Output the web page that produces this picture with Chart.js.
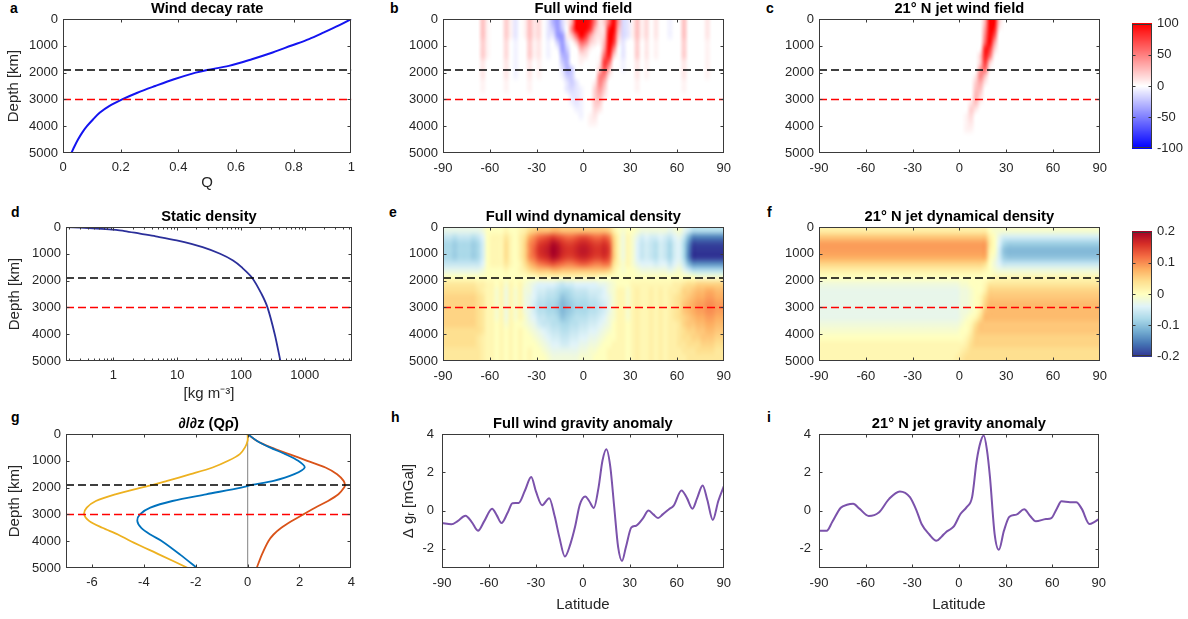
<!DOCTYPE html>
<html>
<head>
<meta charset="utf-8">
<script src="https://cdn.jsdelivr.net/npm/chart.js@4.4.1/dist/chart.umd.min.js"></script>
<style>
  body { margin: 0; background: #fff; }
  #fig { position: relative; width: 1188px; height: 619px; overflow: hidden; font-family: "Liberation Sans", Arial, Helvetica, sans-serif; }
  #fig canvas { position: absolute; }
  .tag { position: absolute; font-weight: bold; font-size: 14px; line-height: 16px; color: #000; }
</style>
</head>
<body>
<div id="fig">
  <div class="tag" style="left:10px;top:0px">a</div>
  <div class="tag" style="left:390px;top:0px">b</div>
  <div class="tag" style="left:766px;top:0px">c</div>
  <div class="tag" style="left:11px;top:204px">d</div>
  <div class="tag" style="left:389px;top:204px">e</div>
  <div class="tag" style="left:767px;top:204px">f</div>
  <div class="tag" style="left:11px;top:409px">g</div>
  <div class="tag" style="left:391px;top:409px">h</div>
  <div class="tag" style="left:767px;top:409px">i</div>
</div>
<script>
// depth of the two reference levels [km]
const decayDepth = 1900;
const refDepth = 3000;

// a: wind decay function Q(depth)
const decayDepths = [0, 250, 500, 750, 1000, 1250, 1500, 1750, 1900, 2000, 2250, 2500, 2750, 3000, 3250, 3500, 3750, 4000, 4250, 4500, 4750, 5000];
const decayQ = [1.0, 0.955, 0.905, 0.853, 0.79, 0.727, 0.655, 0.575, 0.50, 0.46, 0.385, 0.32, 0.258, 0.205, 0.16, 0.127, 0.104, 0.083, 0.066, 0.052, 0.04, 0.029];

// d: static density [kg m^-3]
const densDepths = [0, 25, 60, 100, 150, 250, 350, 500, 750, 1000, 1250, 1500, 1900, 2500, 3000, 4000, 5000];
const densValues = [0.18, 0.3, 0.55, 0.95, 1.5, 2.6, 4.6, 9.8, 25, 47, 75, 102, 150, 210, 260, 338, 415];
const densTicks = [1, 10, 100, 1000];

// g: d/dz (Q rho) terms
const gradDepths = [0, 250, 500, 750, 1000, 1250, 1500, 1750, 1900, 2000, 2250, 2500, 2750, 3000, 3250, 3500, 3750, 4000, 4500, 5000];
const gradTotal = [0, 0.35, 0.85, 1.45, 1.95, 2.2, 1.8, 1.0, 0.15, -0.25, -1.6, -2.9, -3.75, -4.15, -4.25, -4.1, -3.75, -3.3, -2.6, -1.95];
const gradDensity = [0, 0.35, 0.9, 1.6, 2.3, 3.0, 3.45, 3.7, 3.75, 3.72, 3.5, 3.1, 2.6, 2.15, 1.7, 1.3, 1.0, 0.8, 0.55, 0.35];
const gradDecay = [0, 0, -0.1, -0.3, -0.75, -1.35, -2.2, -3.1, -3.65, -4.1, -5.1, -5.85, -6.2, -6.3, -6.1, -5.6, -5.0, -4.5, -3.4, -2.3];

// h: full wind gravity anomaly [mGal]
const fullLat = [-90, -84, -80, -75, -71, -67, -63, -58, -55, -52, -48, -45, -41, -37, -33, -30, -26, -21.5, -18, -15, -11.5, -8, -5, -2, 1.5, 4, 7, 10, 12.5, 15, 17.5, 20, 22.5, 25, 27.5, 31, 34, 38, 42, 45, 48, 51, 55, 58, 63, 66.5, 70, 73, 76.5, 79.5, 83, 86.5, 90];
const fullGrav = [-0.65, -0.72, -0.55, -0.27, -0.6, -1.05, -0.55, 0.1, -0.25, -0.65, -0.1, 0.38, 0.4, 1.05, 1.75, 1.0, 0.28, 0.65, -0.3, -1.4, -2.4, -1.75, -0.85, 0.3, 0.74, 0.5, 0.14, 1.2, 2.6, 3.2, 2.3, 0.2, -1.9, -2.63, -1.9, -0.88, -0.79, -0.45, 0.0, -0.2, -0.39, -0.2, 0.07, 0.26, 1.05, 0.65, 0.1, 0.65, 1.31, 0.55, -0.49, 0.5, 1.26];

// i: 21N jet gravity anomaly [mGal]
const jetLat = [-90, -85, -81.5, -76, -72, -68, -64, -58, -51.5, -45, -38, -31.5, -27, -24, -19, -14.5, -11, -8.5, -5, -3, 1, 5, 8.5, 11.5, 14, 16, 18, 20, 23, 25.7, 29, 32.5, 37, 42, 46, 49.5, 56, 59.5, 63, 66, 71.5, 75.5, 79, 84, 87, 90];
const jetGrav = [-1.05, -1.05, -0.6, 0.15, 0.3, 0.35, 0.1, -0.28, -0.1, 0.6, 1.0, 0.7, -0.05, -0.7, -1.25, -1.58, -1.35, -1.14, -0.95, -0.8, -0.18, 0.18, 0.7, 2.63, 3.6, 3.92, 3.2, 1.75, -1.23, -2.05, -1.05, -0.32, -0.21, 0.07, -0.3, -0.56, -0.44, -0.39, 0.1, 0.49, 0.44, 0.44, 0.1, -0.7, -0.6, -0.44];

// field grids: 60 columns of 3 deg from -90, 20 rows of 250 km from the top
// level codes: 0 = zero, A..T = +1..+20 twentieths of the colour range, a..t = negative
const gridLatStart = -90, gridLatStep = 3, gridDepthStep = 250;
const windRange = 100;   // m/s
const densRange = 0.2;   // kg m^-3

const windFullRows = [
  "00000000EA 000DAb0AEB C0bfhcAFTT TRJBDLTHcb AEAC0B00a0 0E0000B000",
  "00000000EA 000DAb0AEB C0bdhd0JTT TPFBCRTFcb AEAC0B00a0 0E0000B000",
  "00000000EA 000DAb0AEB C0bbhhADLT PHCBDTRDcb AEAC0B00a0 0E0000B000",
  "00000000DA 000C0a00DA B0a0dhb0DL JDBAFTPBb0 0D0B0A0000 0D0000A000",
  "00000000DA 000C0a00DA B0a0ahd00F DA00HTJ0b0 0D0B0A0000 0D0000A000",
  "00000000DA 000C0a00DA B0a00ff00B B00ALRD0b0 0D0B0A0000 0D0000A000",
  "00000000B0 000B0a00B0 A0000df00A 000BPL00a0 0B0A000000 0B0000A000",
  "00000000B0 000B0a00B0 A0000bfd00 000DNF00a0 0B0A000000 0B0000A000",
  "00000000B0 000B0a00B0 A0000add00 000JJB0000 0B0A000000 0B0000A000",
  "00000000A0 000A0000A0 000000bdb0 00BJF00000 0A00000000 0A00000000",
  "00000000A0 000A0000A0 000000bcba 00DHD00000 0A00000000 0A00000000",
  "0000000000 0000000000 0000000bba 00DFB00000 0000000000 0000000000",
  "0000000000 0000000000 0000000aba 00DD000000 0000000000 0000000000",
  "0000000000 0000000000 00000000aa 00CB000000 0000000000 0000000000",
  "0000000000 0000000000 000000000a 0AB0000000 0000000000 0000000000",
  "0000000000 0000000000 0000000000 0AA0000000 0000000000 0000000000",
  "0000000000 0000000000 0000000000 0000000000 0000000000 0000000000",
  "0000000000 0000000000 0000000000 0000000000 0000000000 0000000000",
  "0000000000 0000000000 0000000000 0000000000 0000000000 0000000000",
  "0000000000 0000000000 0000000000 0000000000 0000000000 0000000000"
];

const windJetRows = [
  "0000000000 0000000000 0000000000 00000FTTD0 0000000000 0000000000",
  "0000000000 0000000000 0000000000 00000HTRB0 0000000000 0000000000",
  "0000000000 0000000000 0000000000 00000JTN00 0000000000 0000000000",
  "0000000000 0000000000 0000000000 00000LTH00 0000000000 0000000000",
  "0000000000 0000000000 0000000000 0000ARPD00 0000000000 0000000000",
  "0000000000 0000000000 0000000000 0000DRLA00 0000000000 0000000000",
  "0000000000 0000000000 0000000000 0000DPD000 0000000000 0000000000",
  "0000000000 0000000000 0000000000 0000HLA000 0000000000 0000000000",
  "0000000000 0000000000 0000000000 000BJE0000 0000000000 0000000000",
  "0000000000 0000000000 0000000000 000DGB0000 0000000000 0000000000",
  "0000000000 0000000000 0000000000 000EE00000 0000000000 0000000000",
  "0000000000 0000000000 0000000000 000FC00000 0000000000 0000000000",
  "0000000000 0000000000 0000000000 00BEA00000 0000000000 0000000000",
  "0000000000 0000000000 0000000000 00DB000000 0000000000 0000000000",
  "0000000000 0000000000 0000000000 0AC0000000 0000000000 0000000000",
  "0000000000 0000000000 0000000000 0AB0000000 0000000000 0000000000",
  "0000000000 0000000000 0000000000 0AA0000000 0000000000 0000000000",
  "0000000000 0000000000 0000000000 0000000000 0000000000 0000000000",
  "0000000000 0000000000 0000000000 0000000000 0000000000 0000000000",
  "0000000000 0000000000 0000000000 0000000000 0000000000 0000000000"
];

const densFullRows = [
  "ccccccccb0 000A00ABDE FFFGGFFFFF FFFFFEB0a0 0abbbbbbcb aceggggggg",
  "ffgfffgfd0 AAACA0BDHJ LMNONMLLMN NMLLMKEAbA acedeedefd cfkooooooo",
  "hhihhhihe0 AAADA0BEJL OPQSRPOOPQ QPOOPNFAbA adfefgefhe dhnsssssss",
  "hhihhhihe0 AAADA0BEJM PQRTSQPPQR RQPPQOFAbA adfefgefhe dhottttttt",
  "hhihhhihe0 AAADA0BEJL OPQSRPOOPQ QPOOPNFAbA adfefgefhe dhottttttt",
  "ffffffffd0 AAACA0ADGI KLMNMLKKLM MLKKLKDAaA acdddeddfd cfknnnnnnn",
  "ccccccccb0 000A00ABDE FFFGGFFFFF FFFFFEB0a0 0abbbbbbcb aceggggggg",
  "0000000000 0000000000 AAAAAAAAAA AAA0000000 0000000000 0000aaaaaa",
  "CCCCCCCBBA A0AaA0Aabc ddddefeedd dddccba000 AAAAAAAAAB BCDDEEEEEE",
  "DDDDDDDCBA AaAbAaAbbd eeffghhgff feeedbaAAa ABAABABABB CEEFGGHHGG",
  "EEEEEEEDCA AaAbAaAbcd ffgghjihgg gffedcaAAa ABAABABABC DEFGHHIIHH",
  "EEEEEEEDCA AaAbAaAbce gghhikjihh hggfecaAAa ABAABABABC DFGHIIJJII",
  "EEEEEEEDCA AaAbAaAbce gghhikjihh hggfecaAAa ABAABABABC DFGHIIJJII",
  "EEEEEEEDCA AaAbAaAacd ffgghjihgg gffedbaAAa ABAABABABC DEFGHHIIHH",
  "EEEEEEEDCA A0AaA00abc effgghhggf feedcb0AA0 ABAABABABB CEFFGGHHGG",
  "DDDDDDDDCA A0A0A0A0ab cdeffggffe eddcba0AA0 ABAABABABB CDEEFFGGFF",
  "DDDDDDDCBA A0A0A0A00a bcdeeffeed dccba00AA0 ABAABABABB CDDEEFFFEE",
  "DDDDDDDCBA A0A0A0A000 abcddeeddc cbba00AAA0 ABAABABABB CCDDDEEEDD",
  "CCCCCCCCBA A0A0A0A0A0 0abccccccb baa00AAAA0 ABAABABABB BCCCDDDDCC",
  "CCCCCCCCBA A0A0A0A0A0 00abbbbbba aa000AAAA0 ABAABABABB BBCCCCCCCC"
];

const densJetRows = [
  "BBBBBBBBBB BBBBBBBBBB BBBBBBBBBB BBBBBB0aaa aaaaaaaaaa aaaaaaaaaa",
  "FFFFFFFFFF FFFFFFFFFF FFFFFFFFFF FFFFFFB0ce eeeeeeeeee eeeeeeeeee",
  "IIIIIIIIII IIIIIIIIII IIIIIIIIII IIIIIIC0dh iiiiiiiiii iiiiiiiiii",
  "IIIIIIIIII IIIIIIIIII IIIIIIIIII IIIIIIB0ej kkkkkkkkkk kkkkkkkkkk",
  "HHHHHHHHHH HHHHHHHHHH HHHHHHHHHH HHHHHHAaei jjjjjjjjjj jjjjjjjjjj",
  "EEEEEEEEEE EEEEEEEEEE EEEEEEEEEE EEEEED0bdf ffffffffff ffffffffff",
  "BBBBBBBBBB BBBBBBBBBB BBBBBBBBBB BBBBBA0abb bbbbbbbbbb bbbbbbbbbb",
  "0000000000 0000000000 0000000000 0000000AAA AAAAAAAAAA AAAAAAAAAA",
  "bbbbbbbbbb bbbbbbbbbb bbbbbbbbbb aa000ACCCC CCCCCCCCCC CCCCCCCCCC",
  "cccccccccc cccccccccc cccccccccc bba00BEEEE EEEEEEEEEE EEEEEEEEEE",
  "cccccccccc cccccccccc cccccccccc bba0ADFFFF FFFFFFFFFF FFFFFFFFFF",
  "cccccccccc cccccccccc cccccccccc bba0AEGGGG GGGGGGGGGG GGGGGGGGGG",
  "cccccccccc cccccccccc cccccccccc bba0BFGGGG GGGGGGGGGG GGGGGGGGGG",
  "cccccccccc cccccccccc cccccccccc ba0ADGGGGG GGGGGGGGGG GGGGGGGGGG",
  "bbbbbbbbbb bbbbbbbbbb bbbbbbbbbb a0ADFFFFFF FFFFFFFFFF FFFFFFFFFF",
  "aaaaaaaaaa aaaaaaaaaa aaaaaaaaaa 00BEFFFFFF FFFFFFFFFF FFFFFFFFFF",
  "0000000000 0000000000 0000000000 0ACEEEEEEE EEEEEEEEEE EEEEEEEEEE",
  "AAAAAAAAAA AAAAAAAAAA AAAAAAAAAA ABDEEEEEEE EEEEEEEEEE EEEEEEEEEE",
  "AAAAAAAAAA AAAAAAAAAA AAAAAAAAAA BCDDDDDDDD DDDDDDDDDD DDDDDDDDDD",
  "AAAAAAAAAA AAAAAAAAAA AAAAAAAAAB CDDDDDDDDD DDDDDDDDDD DDDDDDDDDD"
];

// ---------------------------------------------------------------
const fig = document.getElementById('fig');
Chart.defaults.font.family = '"Liberation Sans", Arial, Helvetica, sans-serif';
Chart.defaults.font.size = 13;
Chart.defaults.color = '#262626';
Chart.defaults.animation = false;
Chart.defaults.responsive = false;
Chart.defaults.plugins.legend.display = false;
Chart.defaults.plugins.tooltip.enabled = false;

// plot-area boxes [left, top, right, bottom] in page pixels
const boxes = {
  a: [63, 19, 352, 153], b: [443, 19, 729, 153], c: [819, 19, 1105, 153],
  d: [66, 227, 352, 361], e: [443, 227, 729, 361], f: [819, 227, 1105, 361],
  g: [66, 434, 352, 568], h: [442, 434, 729, 568], i: [819, 434, 1104, 568],
  cb1: [1132, 19, 1152, 153], cb2: [1132, 227, 1152, 361]
};

function level(ch) {
  const k = ch.charCodeAt(0);
  if (k >= 65 && k <= 84) return (k - 64) / 20;
  if (k >= 97 && k <= 116) return -(k - 96) / 20;
  return 0;
}

function bwr(f) {
  f = Math.max(-1, Math.min(1, f));
  if (f >= 0) { const c = Math.round(255 * (1 - f)); return [255, c, c]; }
  const c = Math.round(255 * (1 + f));
  return [c, c, 255];
}

const rdylbuStops = [[49,54,149],[69,117,180],[116,173,209],[171,217,233],[224,243,248],[255,255,191],[254,224,144],[253,174,97],[244,109,67],[215,48,39],[165,0,38]];
function rdylbu(f) {
  const p = Math.max(0, Math.min(1, (f + 1) / 2)) * (rdylbuStops.length - 1);
  const i = Math.min(Math.floor(p), rdylbuStops.length - 2), t = p - i;
  const a = rdylbuStops[i], b = rdylbuStops[i + 1];
  return [0, 1, 2].map(k => Math.round(a[k] + (b[k] - a[k]) * t));
}
const css = c => `rgb(${c[0]},${c[1]},${c[2]})`;

// one texel per grid cell, stretched over the cell extent given by the scales
function heatLayer(rows, colour) {
  const grid = rows.map(r => r.replace(/\s+/g, ''));
  const nx = grid[0].length, ny = grid.length;
  const tex = document.createElement('canvas');
  tex.width = nx; tex.height = ny;
  const tctx = tex.getContext('2d');
  const img = tctx.createImageData(nx, ny);
  grid.forEach((row, r) => {
    for (let c = 0; c < nx; c++) {
      const col = colour(level(row[c]));
      const o = (r * nx + c) * 4;
      img.data[o] = col[0]; img.data[o + 1] = col[1]; img.data[o + 2] = col[2]; img.data[o + 3] = 255;
    }
  });
  tctx.putImageData(img, 0, 0);
  return {
    id: 'heat',
    beforeDatasetsDraw(chart) {
      const { ctx, chartArea: a, scales: { x, y } } = chart;
      const x0 = x.getPixelForValue(gridLatStart), x1 = x.getPixelForValue(gridLatStart + nx * gridLatStep);
      const y0 = y.getPixelForValue(0), y1 = y.getPixelForValue(ny * gridDepthStep);
      ctx.save();
      ctx.beginPath();
      ctx.rect(a.left, a.top, a.right - a.left, a.bottom - a.top);
      ctx.clip();
      ctx.imageSmoothingEnabled = true;
      ctx.imageSmoothingQuality = 'high';
      ctx.drawImage(tex, x0, y0, x1 - x0, y1 - y0);
      ctx.restore();
    }
  };
}

function rampLayer(range, colour) {
  return {
    id: 'ramp',
    beforeDatasetsDraw(chart) {
      const { ctx, chartArea: a, scales: { y } } = chart;
      ctx.save();
      for (let py = Math.floor(a.top); py < a.bottom; py++) {
        ctx.fillStyle = css(colour(y.getValueForPixel(py + 0.5) / range));
        ctx.fillRect(a.left, py, a.right - a.left, 1);
      }
      ctx.restore();
    }
  };
}

// box round the plot with inward ticks on all four sides
const frame = {
  id: 'frame',
  afterDatasetsDraw(chart) {
    const { ctx, chartArea: a } = chart;
    const L = Math.round(a.left) + 0.5, R = Math.round(a.right) - 0.5;
    const T = Math.round(a.top) + 0.5, B = Math.round(a.bottom) - 0.5;
    ctx.save();
    ctx.strokeStyle = '#3a3a3a';
    ctx.lineWidth = 1;
    ctx.strokeRect(L, T, R - L, B - T);
    ctx.beginPath();
    Object.values(chart.scales).forEach(s => {
      if (s.options.display === false) return;
      const marks = s.ticks.map(t => [t.value, 3]);
      if (s.type === 'logarithmic') {
        for (let n = Math.floor(Math.log10(s.min)); n <= Math.ceil(Math.log10(s.max)); n++) {
          for (let k = 2; k <= 9; k++) {
            const v = k * Math.pow(10, n);
            if (v >= s.min && v <= s.max) marks.push([v, 2]);
          }
        }
      }
      marks.forEach(([v, len]) => {
        const p = Math.round(s.getPixelForValue(v)) + 0.5;
        if (s.isHorizontal()) {
          if (p < L || p > R) return;
          ctx.moveTo(p, B); ctx.lineTo(p, B - len);
          ctx.moveTo(p, T); ctx.lineTo(p, T + len);
        } else {
          if (p < T || p > B) return;
          ctx.moveTo(L, p); ctx.lineTo(L + len, p);
          ctx.moveTo(R, p); ctx.lineTo(R - len, p);
        }
      });
    });
    ctx.stroke();
    ctx.restore();
  }
};

const plain = v => String(parseFloat(Number(v).toFixed(6)));

function axis(o) {
  const ax = {
    type: o.type || 'linear',
    position: o.position,
    min: o.min, max: o.max,
    reverse: !!o.reverse,
    grid: { display: false, drawTicks: false },
    border: { display: false },
    ticks: { stepSize: o.step, padding: o.pad, includeBounds: false, maxRotation: 0, autoSkip: false,
      color: '#262626', font: { size: 13 }, callback: plain },
    afterFit: o.fit
  };
  if (o.title) ax.title = { display: true, text: o.title, color: '#262626', font: { size: 15 }, padding: o.titlePad };
  if (o.tickValues) ax.afterBuildTicks = s => { s.ticks = o.tickValues.map(v => ({ value: v })); };
  return ax;
}

const depthAxis = (title, pad) => axis({
  position: 'left', min: 0, max: 5000, step: 1000, reverse: true, pad: 5,
  fit: s => { s.width = 60; }, title, titlePad: { top: pad, bottom: 0 }
});
const latAxis = (title) => axis({
  position: 'bottom', min: -90, max: 90, step: 30, pad: 8,
  fit: s => { s.height = 50; }, title, titlePad: { top: 0, bottom: 4 }
});

function curve(xs, ys, color, width, extra) {
  return Object.assign({
    data: xs.map((x, i) => ({ x, y: ys[i] })),
    showLine: true, borderColor: color, borderWidth: width,
    pointRadius: 0, tension: 0.3, fill: false
  }, extra || {});
}
function depthLine(depth, x0, x1, color) {
  return {
    data: [{ x: x0, y: depth }, { x: x1, y: depth }],
    showLine: true, borderColor: color, borderWidth: 1.5, borderDash: [8, 4], pointRadius: 0
  };
}
const markLines = (x0, x1) => [depthLine(decayDepth, x0, x1, '#000000'), depthLine(refDepth, x0, x1, '#ff0000')];

function panel(key, cfg) {
  const [l, t, r, b] = boxes[key];
  const cl = l - 60, ct = t - 19;
  const cv = document.createElement('canvas');
  cv.width = r - cl + 10;
  cv.height = b - ct + 50;
  cv.style.left = cl + 'px';
  cv.style.top = ct + 'px';
  fig.appendChild(cv);
  return new Chart(cv, {
    type: 'scatter',
    data: { datasets: cfg.datasets },
    options: {
      devicePixelRatio: 1,
      layout: { padding: { left: 0, right: 10, top: 0, bottom: 0 } },
      plugins: {
        title: {
          display: true, text: cfg.title, fullSize: false, color: '#000',
          font: { size: 14.7, weight: 'bold', lineHeight: '16px' }, padding: { top: 1, bottom: 2 }
        }
      },
      scales: { x: cfg.x, y: cfg.y }
    },
    plugins: (cfg.layers || []).concat([frame])
  });
}

function colourbar(key, range, step, colour) {
  const [l, t, r, b] = boxes[key];
  const cv = document.createElement('canvas');
  cv.width = r - l + 40;
  cv.height = b - t + 16;
  cv.style.left = l + 'px';
  cv.style.top = (t - 8) + 'px';
  fig.appendChild(cv);
  return new Chart(cv, {
    type: 'scatter',
    data: { datasets: [] },
    options: {
      devicePixelRatio: 1,
      layout: { padding: { left: 0, right: 0, top: 8, bottom: 8 } },
      scales: {
        x: { display: false, min: 0, max: 1 },
        y: axis({ position: 'right', min: -range, max: range, step, pad: 5, fit: s => { s.width = 40; } })
      }
    },
    plugins: [rampLayer(range, colour), frame]
  });
}

// a
panel('a', {
  title: 'Wind decay rate',
  x: axis({ position: 'bottom', min: 0, max: 1, step: 0.2, pad: 7, fit: s => { s.height = 50; }, title: 'Q', titlePad: { top: 0, bottom: 11 } }),
  y: depthAxis('Depth [km]', 2),
  datasets: markLines(0, 1).concat([curve(decayQ, decayDepths, '#1414f0', 2)])
});

// b, c
panel('b', { title: 'Full wind field', x: latAxis(), y: depthAxis(), datasets: markLines(-90, 90), layers: [heatLayer(windFullRows, bwr)] });
panel('c', { title: '21° N jet wind field', x: latAxis(), y: depthAxis(), datasets: markLines(-90, 90), layers: [heatLayer(windJetRows, bwr)] });
colourbar('cb1', windRange, 50, bwr);

// d
panel('d', {
  title: 'Static density',
  x: axis({ type: 'logarithmic', position: 'bottom', min: 0.18, max: 5500, pad: 7, fit: s => { s.height = 50; },
    tickValues: densTicks, title: '[kg m⁻³]', titlePad: { top: 0, bottom: 8 } }),
  y: depthAxis('Depth [km]', 0),
  datasets: markLines(0.18, 5500).concat([curve(densValues, densDepths, '#2b2f9a', 1.8)])
});

// e, f
panel('e', { title: 'Full wind dynamical density', x: latAxis(), y: depthAxis(), datasets: markLines(-90, 90), layers: [heatLayer(densFullRows, rdylbu)] });
panel('f', { title: '21° N jet dynamical density', x: latAxis(), y: depthAxis(), datasets: markLines(-90, 90), layers: [heatLayer(densJetRows, rdylbu)] });
colourbar('cb2', densRange, 0.1, rdylbu);

// g
panel('g', {
  title: '∂/∂z (Qρ̄)',
  x: axis({ position: 'bottom', min: -7, max: 4, step: 2, pad: 7, fit: s => { s.height = 50; } }),
  y: depthAxis('Depth [km]', 0),
  datasets: markLines(-7, 4).concat([
    curve(gradTotal, gradDepths, '#0072bd', 1.8),
    curve(gradDensity, gradDepths, '#d95319', 1.8),
    curve(gradDecay, gradDepths, '#edb120', 1.8),
    { data: [{ x: 0, y: 0 }, { x: 0, y: 5000 }], showLine: true, borderColor: '#9a9a9a', borderWidth: 1, pointRadius: 0 }
  ])
});

// h, i
const gravAxis = (title) => axis({ position: 'left', min: -3, max: 4, step: 2, pad: 8, fit: s => { s.width = 60; }, title, titlePad: { top: 18, bottom: 0 } });
panel('h', {
  title: 'Full wind gravity anomaly',
  x: latAxis('Latitude'), y: gravAxis('Δ gᵣ [mGal]'),
  datasets: [curve(fullLat, fullGrav, '#7b52ab', 2, { cubicInterpolationMode: 'monotone' })]
});
panel('i', {
  title: '21° N jet gravity anomaly',
  x: latAxis('Latitude'), y: gravAxis(),
  datasets: [curve(jetLat, jetGrav, '#7b52ab', 2, { cubicInterpolationMode: 'monotone' })]
});
</script>
</body>
</html>
